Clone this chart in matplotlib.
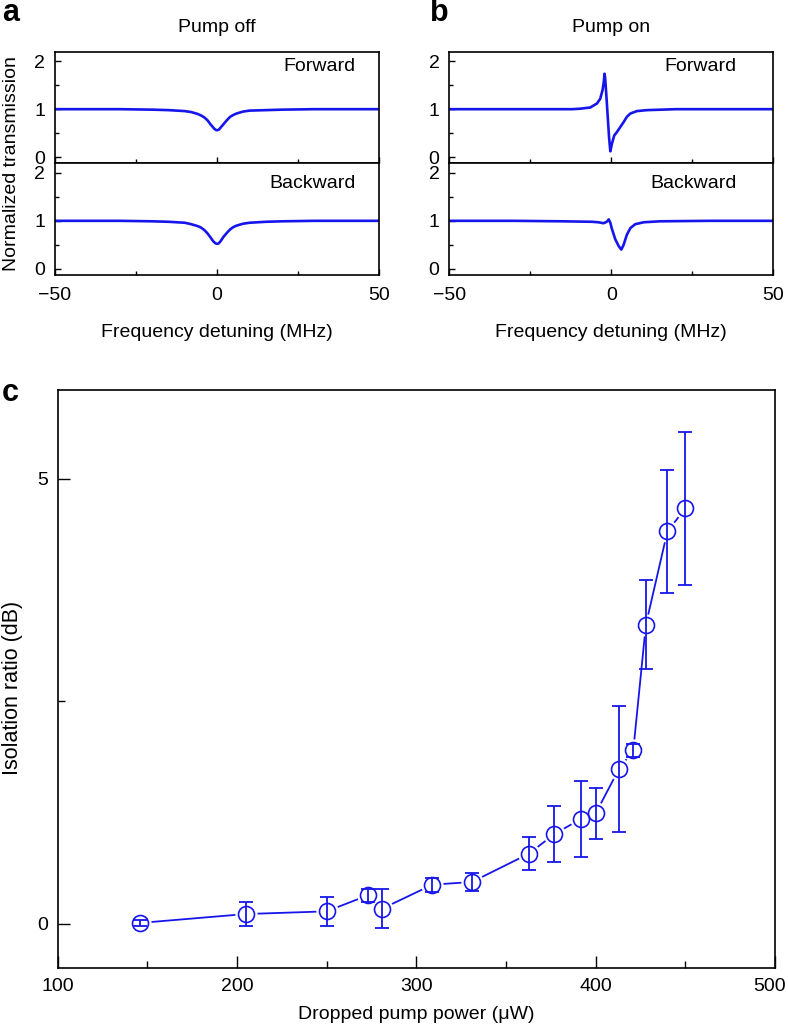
import numpy as np
import matplotlib
matplotlib.use("Agg")
import matplotlib.pyplot as plt
from matplotlib.ticker import MultipleLocator, FixedLocator, FuncFormatter

plt.rcParams['font.family'] = ['Liberation Sans', 'DejaVu Sans']
plt.rcParams['font.size'] = 14
plt.rcParams['axes.linewidth'] = 1.2

# ---- panel a / b traces ----
det_off = [-50, -30, -20, -15, -10, -8, -6, -5, -4, -3, -2, -1.5, -1, -0.5, 0,
           0.5, 1, 1.5, 2, 3, 4, 5, 6, 8, 10, 15, 20, 30, 50]
fwd_off = [1.00, 1.00, 0.99, 0.98, 0.96, 0.94, 0.90, 0.87, 0.83, 0.77, 0.68, 0.64, 0.60, 0.57, 0.56,
           0.57, 0.61, 0.65, 0.69, 0.77, 0.84, 0.88, 0.91, 0.95, 0.97, 0.98, 0.99, 1.00, 1.00]
bwd_off = [1.00, 1.00, 0.99, 0.98, 0.96, 0.93, 0.89, 0.86, 0.81, 0.74, 0.65, 0.60, 0.56, 0.53, 0.52,
           0.53, 0.57, 0.62, 0.67, 0.75, 0.82, 0.87, 0.90, 0.94, 0.96, 0.98, 0.99, 1.00, 1.00]

det_fwd_on = [-50, -30, -20, -12, -9.6, -6.5, -4.4, -3.4, -2.7, -2.3, -2.1, -1.9, -1.5, -1.1,
              -0.7, -0.3, 0.2, 0.9, 1.7, 2.8, 3.8, 4.8, 5.9, 7.9, 11, 20, 30, 50]
fwd_on = [1.00, 1.00, 1.00, 1.00, 1.01, 1.035, 1.12, 1.22, 1.40, 1.58, 1.74, 1.65, 1.26, 0.84,
          0.42, 0.12, 0.28, 0.45, 0.52, 0.63, 0.73, 0.84, 0.91, 0.96, 0.98, 1.00, 1.00, 1.00]

det_bwd_on = [-50, -30, -15, -6, -4, -2.4, -1.4, -0.8, -0.3, 0.2, 1.2, 2.3, 3.1, 3.8, 4.8,
              5.9, 7.4, 10, 15, 30, 50]
bwd_on = [1.00, 1.00, 0.99, 0.98, 0.97, 0.95, 0.98, 1.03, 0.96, 0.83, 0.62, 0.47, 0.40, 0.50, 0.71,
          0.85, 0.93, 0.97, 0.99, 1.00, 1.00]

# ---- panel c ----
power = [146, 205, 250, 273, 281, 309, 331, 363, 377, 392, 400, 413, 421, 428, 440, 450]
ratio = [0.01, 0.11, 0.14, 0.32, 0.17, 0.44, 0.47, 0.79, 1.01, 1.18, 1.24, 1.74, 1.95, 3.36, 4.41, 4.67]
err = [0.03, 0.14, 0.16, 0.07, 0.22, 0.08, 0.10, 0.19, 0.31, 0.43, 0.29, 0.71, 0.07, 0.50, 0.69, 0.86]

blue = '#1616ec'
W, H = 788, 1030
fig = plt.figure(figsize=(W / 100, H / 100), dpi=100)


def px_axes(x0, y0, x1, y1):
    # pixel box (top-left origin) -> figure axes
    return fig.add_axes([x0 / W, 1 - y1 / H, (x1 - x0) / W, (y1 - y0) / H])


def style_trace_ax(ax, show_xlabels):
    ax.set_xlim(-50, 50)
    ax.set_ylim(-0.13, 2.2)
    ax.xaxis.set_major_locator(FixedLocator([-50, 0, 50]))
    ax.xaxis.set_minor_locator(FixedLocator([-25, 25]))
    ax.yaxis.set_major_locator(MultipleLocator(1))
    ax.yaxis.set_minor_locator(MultipleLocator(0.5))
    ax.tick_params(which='both', direction='in', width=1.0)
    ax.tick_params(axis='y', pad=7)
    ax.tick_params(axis='x', pad=9)
    ax.tick_params(which='major', length=4)
    ax.tick_params(which='minor', length=3)
    if not show_xlabels:
        ax.tick_params(axis='x', labelbottom=False)


panels = [
    (55, 379.3, 'Pump off', (det_off, fwd_off), (det_off, bwd_off), 0.928, 'a', 2),
    (449.3, 773.3, 'Pump on', (det_fwd_on, fwd_on), (det_bwd_on, bwd_on), 0.887, 'b', 430),
]
for x0, x1, title, fwd, bwd, tx, letter, lx in panels:
    ax_t = px_axes(x0, 51.7, x1, 163.3)
    ax_b = px_axes(x0, 163.3, x1, 275)
    ax_t.plot(fwd[0], fwd[1], color=blue, lw=1.9)
    ax_b.plot(bwd[0], bwd[1], color=blue, lw=1.9)
    style_trace_ax(ax_t, False)
    style_trace_ax(ax_b, True)
    ax_t.text(tx, 0.87, 'Forward', transform=ax_t.transAxes, ha='right', va='center')
    ax_b.text(tx, 0.82, 'Backward', transform=ax_b.transAxes, ha='right', va='center')
    ax_b.set_xlabel('Frequency detuning (MHz)', labelpad=14)
    fig.text((x0 + x1) / 2 / W, 1 - 28 / H, title, ha='center', va='center')
    fig.text(lx / W, 1 - 21 / H, letter, ha='left', va='baseline', fontsize=22, fontweight='bold')
    if letter == 'a':
        fig.text(12 / W, 1 - 163.3 / H, 'Normalized transmission', rotation=90,
                 ha='center', va='center')

# ---- panel c ----
ax = px_axes(57.5, 390, 775, 968.3)
ax.plot(power, ratio, color=blue, lw=1.3, zorder=1)
ax.plot(power, ratio, 'o', ms=15, mfc='white', mec='white', zorder=2)
ax.errorbar(power, ratio, yerr=err, fmt='none', ecolor=blue, elinewidth=1.3,
            capsize=4.7, capthick=1.3, zorder=3)
ax.plot(power, ratio, 'o', ms=11.5, mfc='none', mec=blue, mew=1.2, zorder=4)
ax.set_xlim(100, 500)
ax.set_ylim(-0.5, 6)
ax.xaxis.set_major_locator(MultipleLocator(100))
ax.xaxis.set_minor_locator(MultipleLocator(50))
# the 500 label sits at the figure edge, so it is drawn separately, nudged left
ax.xaxis.set_major_formatter(FuncFormatter(lambda v, p: '' if v >= 500 else f'{v:.0f}'))
ax.annotate('500', xy=(500, 0), xycoords=('data', 'axes fraction'), xytext=(-4, -7),
            textcoords='offset points', ha='center', va='top')
ax.yaxis.set_major_locator(MultipleLocator(5))
ax.yaxis.set_minor_locator(MultipleLocator(2.5))
ax.tick_params(which='both', direction='in', width=1.0, pad=7)
ax.tick_params(which='major', length=8.5)
ax.tick_params(which='minor', length=5)
ax.set_xlabel('Dropped pump power (\u03bcW)', labelpad=8)
ax.set_ylabel('Isolation ratio (dB)', fontsize=15.5)
ax.yaxis.set_label_coords(-0.048, 0.485)
fig.text(2 / W, 1 - 401 / H, 'c', ha='left', va='baseline', fontsize=22, fontweight='bold')

fig.savefig('out.png', dpi=100)
